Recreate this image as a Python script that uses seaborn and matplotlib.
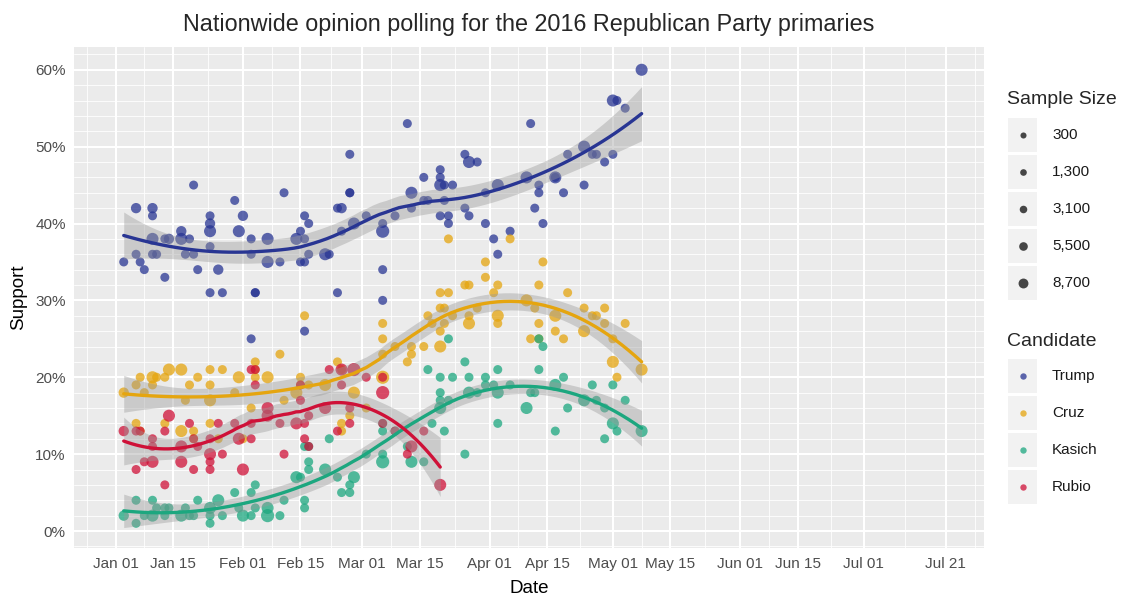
import numpy as np
import pandas as pd
import matplotlib
matplotlib.use("Agg")
import matplotlib.pyplot as plt
from matplotlib.patches import Rectangle
from matplotlib.lines import Line2D
import seaborn as sns

# polls: day = days since 2016-01-01, pct = support in %, n = sample size
trump_day = [2, 5, 5, 6, 7, 9, 9, 9, 9, 10,
             12, 12, 13, 16, 16, 17, 18, 19, 19, 20,
             23, 23, 23, 23, 23, 25, 26, 29, 30, 31,
             33, 33, 34, 34, 33, 37, 37, 40, 41, 44,
             45, 46, 46, 45, 46, 46, 47, 47, 51, 52,
             54, 55, 54, 55, 57, 57, 57, 58, 61, 65,
             65, 65, 65, 68, 72, 72, 71, 75, 76, 75,
             79, 79, 79, 80, 82, 80, 79, 81, 81, 85,
             86, 88, 85, 86, 90, 90, 92, 93, 93, 96,
             100, 101, 103, 103, 102, 104, 107, 107, 109, 110,
             114, 114, 116, 117, 119, 121, 121, 122, 124, 128]
trump_pct = [35, 42, 36, 35, 34, 42, 41, 38, 36, 36,
             33, 38, 38, 39, 38, 36, 38, 45, 36, 34,
             41, 40, 39, 37, 31, 34, 31, 43, 39, 41,
             38, 36, 31, 31, 25, 38, 35, 35, 44, 38,
             39, 41, 38, 35, 35, 26, 40, 36, 36, 36,
             42, 42, 31, 39, 49, 44, 44, 40, 41, 39,
             40, 34, 30, 41, 44, 42, 53, 43, 43, 46,
             47, 46, 45, 45, 45, 43, 41, 41, 40, 49,
             48, 48, 42, 41, 44, 40, 38, 45, 36, 39,
             46, 53, 45, 44, 42, 40, 46, 46, 44, 49,
             50, 45, 49, 49, 48, 49, 56, 56, 55, 60]
trump_n = [1500, 3500, 1500, 1500, 1500, 3500, 1500, 6500, 1500, 1500,
           1500, 1500, 3500, 3500, 6500, 1500, 1500, 1500, 1500, 1500,
           1500, 3500, 6500, 1500, 1500, 3500, 1500, 1500, 6500, 3500,
           1500, 1500, 1500, 1500, 1500, 6500, 6500, 1500, 1500, 6500,
           1500, 1500, 1500, 1500, 1500, 1500, 1500, 1500, 6500, 1500,
           1500, 3500, 1500, 1500, 1500, 1500, 1500, 6500, 1500, 9000,
           1500, 1500, 1500, 1500, 6500, 1500, 1500, 1500, 1500, 1500,
           1500, 1500, 6500, 1500, 1500, 1500, 1500, 1500, 1500, 1500,
           6500, 1500, 1500, 1500, 1500, 1500, 1500, 6500, 1500, 1500,
           6500, 1500, 1500, 1500, 1500, 1500, 6500, 1500, 1500, 1500,
           6500, 1500, 1500, 1500, 1500, 1500, 6500, 1500, 1500, 6500]

cruz_day = [2, 5, 6, 7, 5, 6, 9, 10, 9, 12,
            13, 12, 16, 16, 17, 18, 19, 19, 20, 23,
            23, 23, 23, 25, 26, 29, 30, 31, 33, 34,
            34, 34, 37, 40, 41, 44, 45, 46, 45, 47,
            51, 54, 55, 55, 55, 57, 58, 61, 65, 65,
            65, 65, 68, 71, 72, 72, 75, 76, 77, 79,
            80, 79, 79, 82, 80, 86, 86, 88, 93, 93,
            100, 102, 101, 103, 103, 107, 107, 109, 114, 116,
            117, 119, 119, 114, 121, 124, 121, 122, 128, 81,
            90, 90, 93, 96, 92, 85, 86, 79, 81, 103,
            104, 110]
cruz_pct = [18, 19, 20, 18, 14, 13, 20, 20, 19, 20,
            21, 14, 21, 13, 17, 19, 13, 12, 20, 21,
            19, 17, 14, 12, 21, 18, 20, 12, 16, 22,
            21, 20, 20, 23, 17, 18, 20, 28, 19, 19,
            19, 22, 21, 14, 13, 15, 18, 16, 27, 25,
            23, 20, 24, 22, 23, 24, 24, 28, 27, 29,
            29, 26, 24, 28, 27, 28, 27, 29, 28, 27,
            30, 29, 25, 25, 27, 28, 26, 25, 29, 28,
            28, 29, 27, 26, 25, 27, 22, 20, 21, 38,
            35, 33, 32, 38, 31, 32, 32, 31, 31, 32,
            35, 31]
cruz_n = [3500, 1500, 1500, 1500, 1500, 1500, 6500, 1500, 1500, 1500,
          6500, 1500, 6500, 6500, 1500, 1500, 1500, 1500, 1500, 1500,
          1500, 6500, 1500, 1500, 1500, 1500, 6500, 1500, 1500, 1500,
          1500, 1500, 6500, 1500, 1500, 6500, 1500, 1500, 1500, 1500,
          6500, 1500, 1500, 1500, 1500, 1500, 6500, 1500, 1500, 1500,
          1500, 9000, 1500, 1500, 1500, 1500, 1500, 1500, 1500, 1500,
          1500, 1500, 6500, 1500, 1500, 1500, 6500, 1500, 6500, 1500,
          6500, 1500, 1500, 1500, 1500, 6500, 1500, 1500, 1500, 1500,
          1500, 1500, 1500, 6500, 1500, 1500, 6500, 1500, 6500, 1500,
          1500, 1500, 1500, 1500, 1500, 1500, 1500, 1500, 1500, 1500,
          1500, 1500]

kasich_day = [2, 5, 5, 7, 9, 9, 10, 12, 13, 12,
              16, 17, 18, 19, 20, 23, 23, 23, 25, 26,
              29, 30, 31, 33, 33, 34, 34, 37, 37, 40,
              41, 44, 45, 46, 46, 46, 47, 47, 47, 52,
              51, 54, 55, 57, 57, 58, 61, 65, 65, 65,
              65, 68, 71, 72, 75, 77, 76, 79, 79, 79,
              79, 80, 81, 81, 82, 85, 85, 86, 86, 88,
              90, 90, 92, 93, 93, 93, 96, 100, 101, 102,
              103, 103, 104, 107, 109, 107, 110, 114, 116, 117,
              119, 119, 121, 121, 122, 124, 128]
kasich_pct = [2, 4, 1, 2, 4, 2, 3, 3, 3, 2,
              2, 3, 2, 2, 4, 3, 2, 1, 4, 2,
              5, 3, 2, 5, 2, 6, 3, 3, 2, 2,
              4, 7, 7, 4, 3, 11, 11, 9, 8, 12,
              8, 7, 5, 5, 6, 7, 10, 13, 10, 9,
              14, 13, 11, 9, 9, 14, 21, 20, 18, 17,
              16, 13, 17, 25, 20, 22, 10, 20, 18, 18,
              20, 19, 19, 21, 14, 18, 19, 16, 18, 18,
              21, 25, 24, 19, 20, 13, 16, 17, 19, 17,
              16, 12, 19, 14, 13, 17, 13]
kasich_n = [3500, 1500, 1500, 1500, 1500, 6500, 1500, 1500, 1500, 1500,
            6500, 1500, 1500, 1500, 1500, 6500, 1500, 1500, 6500, 1500,
            1500, 1500, 6500, 1500, 1500, 1500, 1500, 6500, 9000, 1500,
            1500, 6500, 1500, 1500, 1500, 1500, 1500, 1500, 1500, 1500,
            6500, 1500, 1500, 1500, 1500, 6500, 1500, 1500, 1500, 9000,
            1500, 1500, 1500, 6500, 1500, 1500, 1500, 1500, 1500, 1500,
            6500, 1500, 1500, 1500, 1500, 1500, 1500, 1500, 6500, 1500,
            1500, 1500, 1500, 1500, 1500, 6500, 1500, 6500, 1500, 1500,
            1500, 1500, 1500, 6500, 1500, 1500, 1500, 6500, 1500, 1500,
            1500, 1500, 1500, 6500, 1500, 1500, 6500]

rubio_day = [2, 5, 6, 5, 7, 9, 9, 9, 12, 12,
             13, 16, 16, 18, 19, 19, 20, 23, 23, 23,
             23, 25, 26, 29, 30, 31, 33, 33, 34, 34,
             33, 37, 37, 40, 41, 44, 45, 46, 46, 47,
             47, 45, 51, 52, 54, 55, 55, 57, 57, 58,
             61, 65, 65, 65, 68, 71, 72, 75, 79]
rubio_pct = [13, 13, 13, 8, 9, 12, 11, 9, 13, 6,
             15, 11, 9, 14, 8, 12, 11, 12, 10, 9,
             8, 14, 10, 14, 12, 8, 14, 21, 21, 19,
             12, 15, 16, 14, 10, 14, 19, 14, 12, 11,
             15, 17, 16, 21, 13, 21, 19, 14, 16, 21,
             20, 20, 18, 14, 13, 10, 11, 13, 6]
rubio_n = [3500, 1500, 1500, 1500, 1500, 1500, 1500, 6500, 1500, 1500,
           6500, 6500, 6500, 1500, 1500, 1500, 1500, 1500, 6500, 1500,
           1500, 1500, 1500, 1500, 6500, 6500, 1500, 1500, 1500, 1500,
           1500, 6500, 6500, 1500, 1500, 6500, 1500, 1500, 1500, 1500,
           1500, 1500, 6500, 1500, 1500, 6500, 1500, 1500, 1500, 9000,
           1500, 1500, 9000, 1500, 1500, 1500, 6500, 1500, 6500]

candidates = ["Trump", "Cruz", "Kasich", "Rubio"]
colors = ["#283593", "#E5A50F", "#1CA77F", "#CF1138"]
size_breaks = [300, 1300, 3100, 5500, 8700]
size_labels = ["300", "1,300", "3,100", "5,500", "8,700"]
tick_dates = ["2016-01-01", "2016-01-15", "2016-02-01", "2016-02-15", "2016-03-01",
              "2016-03-15", "2016-04-01", "2016-04-15", "2016-05-01", "2016-05-15",
              "2016-06-01", "2016-06-15", "2016-07-01", "2016-07-21"]
y_ticks = [0, 10, 20, 30, 40, 50, 60]

start = pd.Timestamp("2016-01-01")
W, H = 1122, 603


def loess(x, y, grid, span=0.75):
    # local quadratic fit with tricube weights (like R's loess), plus standard errors
    x = np.asarray(x, float)
    y = np.asarray(y, float)
    n = len(x)
    q = int(np.floor(n * span))

    def row(x0):
        d = np.abs(x - x0)
        h = np.sort(d)[q - 1] * 1.0001
        w = np.clip(1 - (d / h) ** 3, 0, None) ** 3
        X = np.column_stack([np.ones(n), x - x0, (x - x0) ** 2])
        XW = X * w[:, None]
        return np.linalg.solve(X.T @ XW, XW.T)[0]

    L = np.array([row(v) for v in x])
    res = y - L @ y
    M = np.eye(n) - L
    MM = M.T @ M
    d1 = np.trace(MM)
    sigma = np.sqrt(res @ res / d1)
    G = np.array([row(v) for v in grid])
    fit = G @ y
    se = sigma * np.sqrt((G ** 2).sum(axis=1))
    return fit, fit - 1.98 * se, fit + 1.98 * se


frames = []
for name, d, p, n in [("Trump", trump_day, trump_pct, trump_n),
                      ("Cruz", cruz_day, cruz_pct, cruz_n),
                      ("Kasich", kasich_day, kasich_pct, kasich_n),
                      ("Rubio", rubio_day, rubio_pct, rubio_n)]:
    frames.append(pd.DataFrame({"day": d, "pct": p, "n": n, "Candidate": name}))
df = pd.concat(frames, ignore_index=True)
df["date"] = start + pd.to_timedelta(df["day"], unit="D")

sns.set_theme(style="darkgrid")
plt.rcParams["font.family"] = ["Liberation Sans", "DejaVu Sans"]

fig = plt.figure(figsize=(W / 100, H / 100), dpi=100)
ax = fig.add_axes([74 / W, 1 - 548.3 / H, 910 / W, 501.6 / H])
ax.set_facecolor("#EBEBEB")
for s in ax.spines.values():
    s.set_visible(False)

pal = dict(zip(candidates, colors))
smin, smax = 34, 90
sns.scatterplot(data=df, x="date", y="pct", hue="Candidate", hue_order=candidates,
                palette=pal, size="n", sizes=(smin, smax), size_norm=(300, 8700),
                alpha=0.75, linewidth=0, legend=False, ax=ax, zorder=3)

# loess smooth with confidence ribbon per candidate
for name, col in zip(candidates, colors):
    sub = df[df["Candidate"] == name]
    grid = np.linspace(sub["day"].min(), sub["day"].max(), 80)
    fit, lo, hi = loess(sub["day"], sub["pct"], grid)
    gdates = (start + pd.to_timedelta(grid, unit="D")).values
    ax.fill_between(gdates, lo, hi, color="#999999", alpha=0.4, lw=0, zorder=4)
    sns.lineplot(x=gdates, y=fit, color=col, linewidth=2.4, ax=ax, zorder=5)

# axes
major = pd.to_datetime(tick_dates)
step = major[1] - major[0]
ext = [major[0] - step] + list(major) + [major[-1] + step]
minor = [ext[i] + (ext[i + 1] - ext[i]) / 2 for i in range(len(ext) - 1)]
ax.set_xticks(major)
ax.set_xticks(minor, minor=True)
ax.set_xticklabels([d.strftime("%b %d") for d in major])
ax.set_xlim(start - pd.Timedelta(days=10.1), start + pd.Timedelta(days=211.3))

ax.set_yticks(y_ticks)
ax.set_yticklabels([f"{v}%" for v in y_ticks])
ax.set_yticks([v for v in range(-2, 64, 2) if v % 10], minor=True)
ax.set_ylim(-2.25, 63.0)

ax.grid(which="major", color="white", linewidth=1.5)
ax.grid(which="minor", color="white", linewidth=0.6)
ax.tick_params(which="major", length=3, width=0.8, color="#333333", pad=3,
               labelsize=11, labelcolor="#4D4D4D")
ax.tick_params(which="minor", length=0)

ax.set_xlabel("Date", fontsize=13.5, color="black")
ax.set_ylabel("Support", fontsize=13.5, color="black")
ax.xaxis.set_label_coords(0.5, -0.064)
ax.yaxis.set_label_coords(-0.051, 0.5)
ax.set_title("Nationwide opinion polling for the 2016 Republican Party primaries",
             fontsize=16.8, pad=11)


# ggplot-style legends drawn in figure pixels
def fx(x):
    return x / W


def fy(y):
    return 1 - y / H


fig.text(fx(1007), fy(100), "Sample Size", fontsize=14, va="center", ha="left")
for i, (v, lab) in enumerate(zip(size_breaks, size_labels)):
    cy = 135 + 37 * i
    fig.add_artist(Rectangle((fx(1008), fy(cy + 17)), 29 / W, 34 / H,
                             transform=fig.transFigure, color="#F2F2F2", lw=0))
    s = smin + (v - 300) / (8700 - 300) * (smax - smin)
    fig.add_artist(Line2D([fx(1022.5)], [fy(cy)], marker="o", ms=np.sqrt(s) * 0.75, mew=0,
                          color="#333333", alpha=0.9, lw=0, transform=fig.transFigure))
    fig.text(fx(1052), fy(cy), lab, fontsize=11, va="center", ha="left", color="#1A1A1A")

fig.text(fx(1007), fy(341), "Candidate", fontsize=14, va="center", ha="left")
for i, (name, col) in enumerate(zip(candidates, colors)):
    cy = 376 + 37 * i
    fig.add_artist(Rectangle((fx(1008), fy(cy + 17)), 29 / W, 34 / H,
                             transform=fig.transFigure, color="#F2F2F2", lw=0))
    fig.add_artist(Line2D([fx(1022.5)], [fy(cy)], marker="o", ms=4.6, mew=0,
                          color=col, alpha=0.75, lw=0, transform=fig.transFigure))
    fig.text(fx(1052), fy(cy), name, fontsize=11, va="center", ha="left", color="#1A1A1A")

fig.savefig("out.png", dpi=100)
